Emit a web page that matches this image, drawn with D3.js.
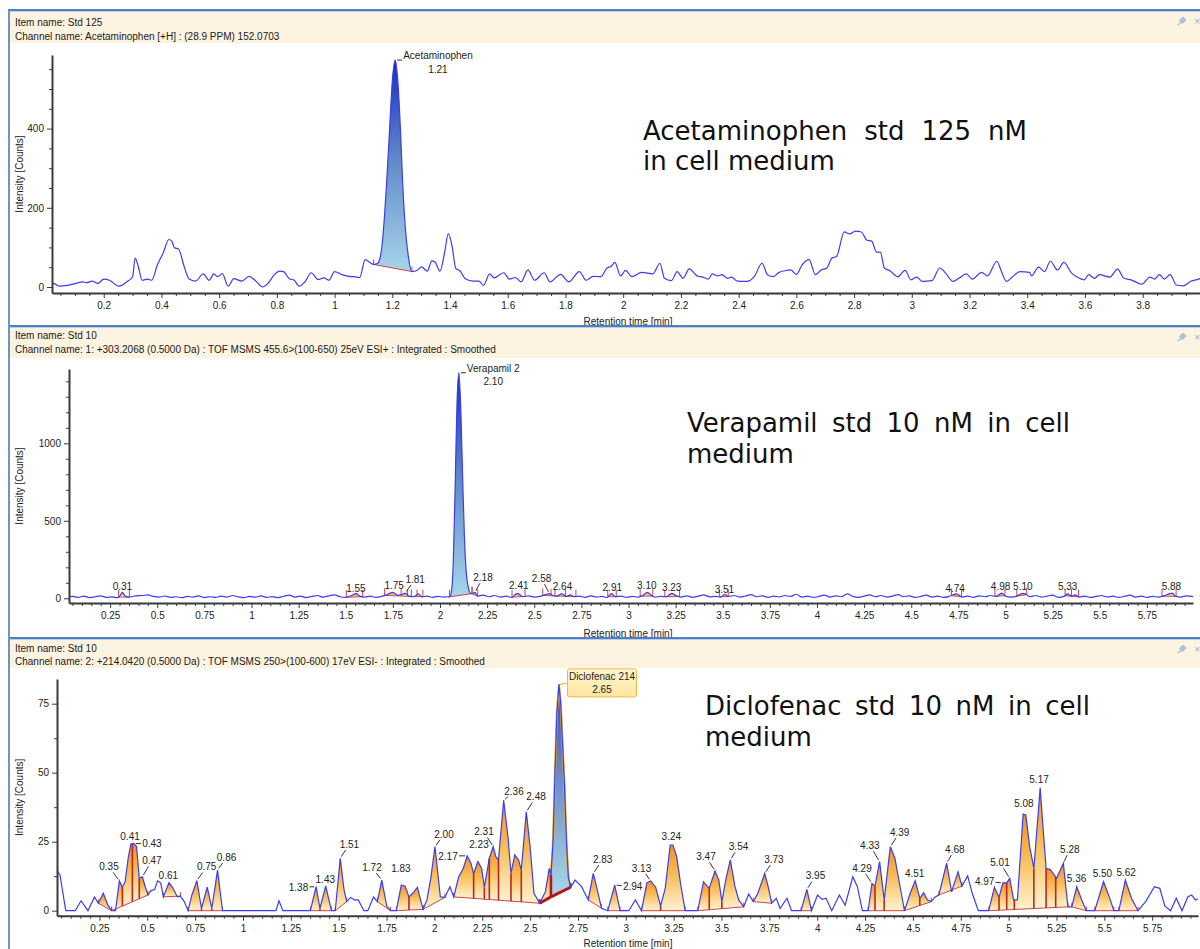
<!DOCTYPE html>
<html><head><meta charset="utf-8">
<script src="https://cdn.jsdelivr.net/npm/d3@7"></script>
<style>body{margin:0;background:#fff;overflow:hidden}svg{display:block}</style>
</head><body>
<svg id="c" width="1200" height="949"></svg>
<script>
// ================= DATA =================
// Panel 1: Acetaminophen chromatogram [time min, intensity counts]
const acetTrace = [[0.021,8],[0.027,8.6],[0.047,2],[0.074,4],[0.107,10],[0.127,13],[0.14,11],[0.16,15],[0.18,9],[0.2,20],[0.22,17],[0.253,2],[0.28,13],[0.3,26],[0.309,73],[0.32,51],[0.333,17],[0.353,20],[0.366,17],[0.386,56],[0.406,86],[0.426,120],[0.436,116],[0.445,99],[0.459,96],[0.479,51],[0.495,21],[0.518,15],[0.545,33],[0.565,17],[0.582,33],[0.595,26],[0.611,34],[0.631,2],[0.651,21],[0.678,15],[0.704,27],[0.724,17],[0.751,0],[0.77,10],[0.79,30],[0.81,40],[0.823,39],[0.843,21],[0.86,17],[0.877,2],[0.897,13],[0.919,36],[0.943,19],[0.963,23],[0.98,17],[1.0,39],[1.023,32],[1.049,27],[1.069,26],[1.087,24],[1.106,69],[1.122,62],[1.135,57],[1.149,60],[1.158,75],[1.165,110],[1.172,170],[1.18,260],[1.19,390],[1.2,520],[1.21,573],[1.22,510],[1.228,400],[1.236,260],[1.245,150],[1.255,80],[1.268,39],[1.288,43],[1.301,51],[1.321,40],[1.337,66],[1.348,63],[1.365,40],[1.381,86],[1.394,135],[1.407,103],[1.42,47],[1.434,41],[1.454,20],[1.48,15],[1.5,15],[1.516,4],[1.537,33],[1.553,23],[1.586,36],[1.606,20],[1.626,24],[1.646,13],[1.67,43],[1.693,17],[1.726,36],[1.746,13],[1.783,32],[1.812,13],[1.848,39],[1.872,17],[1.896,27],[1.922,26],[1.944,48],[1.958,52],[1.971,62],[1.991,28],[2.008,42],[2.03,26],[2.064,37],[2.103,33],[2.127,60],[2.143,22],[2.167,16],[2.187,39],[2.207,22],[2.229,46],[2.256,28],[2.275,25],[2.295,20],[2.309,33],[2.328,28],[2.342,31],[2.362,22],[2.375,25],[2.395,15],[2.428,14],[2.454,26],[2.481,60],[2.5,31],[2.52,26],[2.54,37],[2.56,41],[2.58,43],[2.6,32],[2.62,56],[2.644,69],[2.666,31],[2.686,43],[2.706,48],[2.723,73],[2.739,77],[2.766,139],[2.785,134],[2.805,141],[2.825,139],[2.845,118],[2.861,116],[2.878,88],[2.891,88],[2.905,48],[2.924,41],[2.951,26],[2.977,42],[2.997,18],[3.017,25],[3.037,14],[3.07,16],[3.097,48],[3.117,35],[3.143,14],[3.163,22],[3.189,33],[3.209,20],[3.242,37],[3.262,28],[3.295,65],[3.309,42],[3.328,14],[3.348,25],[3.375,39],[3.408,37],[3.415,28],[3.439,50],[3.46,39],[3.48,65],[3.505,43],[3.527,62],[3.554,35],[3.573,25],[3.597,18],[3.613,31],[3.633,22],[3.65,31],[3.686,25],[3.713,45],[3.735,22],[3.76,18],[3.797,7],[3.825,25],[3.841,20],[3.858,31],[3.875,20],[3.895,31],[3.917,5],[3.941,3],[3.968,15],[3.994,20],[4.0,22]];
const acetGroups = [{s:1.135,e:1.268,v0:57,v1:39,blue:true}];
const acetNamed = {name:'Acetaminophen', rt:'1.21', t:1.21};
const acetXTicks = [0.2,0.4,0.6,0.8,1,1.2,1.4,1.6,1.8,2,2.2,2.4,2.6,2.8,3,3.2,3.4,3.6,3.8];
const acetYTicks = [0,200,400];

// Panel 2: Verapamil chromatogram
const veraTrace = [[0.02,8],[0.05,12],[0.08,6],[0.11,14],[0.14,5],[0.17,10],[0.2,16],[0.23,6],[0.26,9],[0.29,4],[0.3,12],[0.315,38],[0.33,14],[0.35,8],[0.38,15],[0.42,18],[0.45,22],[0.48,12],[0.51,8],[0.54,15],[0.57,6],[0.6,10],[0.63,4],[0.66,12],[0.69,8],[0.72,16],[0.75,5],[0.78,10],[0.81,6],[0.84,14],[0.87,8],[0.9,18],[0.93,9],[0.96,5],[0.99,12],[1.02,7],[1.05,16],[1.08,6],[1.11,11],[1.14,4],[1.17,13],[1.2,20],[1.23,8],[1.26,14],[1.29,5],[1.32,12],[1.35,18],[1.38,7],[1.41,16],[1.44,22],[1.47,10],[1.5,6],[1.53,18],[1.555,30],[1.575,14],[1.6,8],[1.63,14],[1.66,6],[1.69,12],[1.72,24],[1.75,38],[1.775,20],[1.8,26],[1.815,34],[1.835,14],[1.86,10],[1.885,28],[1.905,9],[1.93,14],[1.96,6],[1.99,12],[2.02,8],[2.04,10],[2.05,9],[2.06,40],[2.07,220],[2.08,700],[2.09,1250],[2.1,1455],[2.11,1230],[2.12,780],[2.13,380],[2.14,160],[2.15,70],[2.16,35],[2.17,30],[2.185,38],[2.2,14],[2.23,20],[2.26,10],[2.29,18],[2.32,8],[2.35,14],[2.38,6],[2.41,32],[2.44,10],[2.47,16],[2.5,8],[2.53,12],[2.56,24],[2.58,30],[2.6,18],[2.62,12],[2.645,30],[2.67,12],[2.69,22],[2.71,10],[2.74,14],[2.77,6],[2.8,16],[2.83,8],[2.86,12],[2.885,5],[2.91,30],[2.93,10],[2.96,14],[2.99,6],[3.02,12],[3.05,8],[3.08,22],[3.1,38],[3.12,20],[3.14,8],[3.17,12],[3.2,10],[3.23,32],[3.25,18],[3.28,8],[3.31,16],[3.34,6],[3.37,14],[3.4,22],[3.43,9],[3.46,12],[3.49,8],[3.51,26],[3.53,12],[3.56,18],[3.59,8],[3.62,15],[3.65,24],[3.68,10],[3.71,16],[3.74,6],[3.77,14],[3.8,9],[3.83,18],[3.86,12],[3.89,26],[3.92,8],[3.95,14],[3.98,6],[4.01,12],[4.04,20],[4.07,8],[4.1,16],[4.13,10],[4.16,28],[4.19,12],[4.22,6],[4.25,14],[4.28,22],[4.31,10],[4.34,18],[4.37,8],[4.4,14],[4.43,24],[4.46,10],[4.49,16],[4.52,6],[4.55,12],[4.58,20],[4.61,8],[4.64,14],[4.67,6],[4.7,12],[4.74,28],[4.77,8],[4.8,14],[4.83,6],[4.86,16],[4.89,10],[4.92,18],[4.95,12],[4.98,34],[5.0,14],[5.03,8],[5.06,14],[5.09,32],[5.11,26],[5.13,10],[5.16,18],[5.19,8],[5.22,14],[5.25,20],[5.28,6],[5.31,12],[5.33,28],[5.35,14],[5.37,22],[5.39,8],[5.42,14],[5.45,6],[5.48,12],[5.51,18],[5.54,8],[5.57,14],[5.6,6],[5.63,12],[5.66,20],[5.69,8],[5.72,14],[5.75,6],[5.78,12],[5.81,8],[5.84,16],[5.87,30],[5.885,34],[5.9,14],[5.93,8],[5.96,16],[5.99,12],[6.0,10]];
const veraGroups = [{s:0.295,e:0.352},{s:1.503,e:1.59},{s:1.706,e:1.909,drops:[1.794,1.828,1.848,1.878]},{s:2.05,e:2.17,blue:true},{s:2.17,e:2.2},{s:2.382,e:2.451},{s:2.545,e:2.721,drops:[2.589,2.61,2.666]},{s:2.89,e:2.935},{s:3.062,e:3.129},{s:3.193,e:3.271},{s:3.482,e:3.529},{s:4.713,e:4.767},{s:4.944,e:4.997},{s:5.06,e:5.113},{s:5.316,e:5.387,drops:[5.35]},{s:5.83,e:5.905}];
const veraNamed = {name:'Verapamil 2', rt:'2.10', t:2.10};
const veraLabels = [{text:'0.31',t:0.315,lt:0.315,lv:79},{text:'1.55',t:1.555,lt:1.554,lv:64},{text:'1.75',t:1.75,lt:1.757,lv:85},{text:'1.81',t:1.815,lt:1.868,lv:122},{text:'2.18',t:2.185,lt:2.228,lv:133},{text:'2.41',t:2.41,lt:2.418,lv:85},{text:'2.58',t:2.58,lt:2.539,lv:129},{text:'2.64',t:2.645,lt:2.65,lv:74},{text:'2.91',t:2.91,lt:2.914,lv:71},{text:'3.10',t:3.1,lt:3.097,lv:85},{text:'3.23',t:3.23,lt:3.229,lv:71},{text:'3.51',t:3.51,lt:3.509,lv:58},{text:'4.74',t:4.74,lt:4.733,lv:64},{text:'4.98',t:4.98,lt:4.974,lv:79},{text:'5.10',t:5.09,lt:5.092,lv:75},{text:'5.33',t:5.33,lt:5.33,lv:75},{text:'5.88',t:5.885,lt:5.88,lv:75}];
const veraXTicks = [0.25,0.5,0.75,1,1.25,1.5,1.75,2,2.25,2.5,2.75,3,3.25,3.5,3.75,4,4.25,4.5,4.75,5,5.25,5.5,5.75];
const veraYTicks = [0,500,1000];

// Panel 3: Diclofenac chromatogram
const dicloTrace = [[0.028,14.7],[0.044,12.9],[0.074,0],[0.124,0],[0.154,3.6],[0.19,0],[0.224,5],[0.244,2.7],[0.27,6.3],[0.294,2],[0.314,0],[0.334,0],[0.354,10.8],[0.37,8.5],[0.384,10.5],[0.4,19],[0.414,24.2],[0.43,24.4],[0.444,23.2],[0.458,11.7],[0.474,12.3],[0.49,8.5],[0.504,5.7],[0.518,7.2],[0.538,7.7],[0.554,10.8],[0.57,10.1],[0.584,5],[0.613,10.1],[0.633,8.3],[0.657,5],[0.673,5.3],[0.693,3.3],[0.713,0],[0.733,5.7],[0.759,10.9],[0.783,0.8],[0.813,8.5],[0.837,0.8],[0.867,14.7],[0.893,0],[1.172,0],[1.188,3.6],[1.208,0],[1.352,0],[1.382,8.7],[1.402,0.8],[1.432,9],[1.462,0],[1.482,0],[1.508,19],[1.528,7.5],[1.542,3.3],[1.562,4.8],[1.582,3.9],[1.602,3.9],[1.632,0],[1.652,0],[1.682,5],[1.702,3.3],[1.725,11.1],[1.751,1.7],[1.771,0],[1.801,0],[1.827,9.3],[1.847,8.9],[1.867,5],[1.887,6.3],[1.911,8.5],[1.941,0.5],[1.961,3.9],[1.981,11.7],[2.003,23.2],[2.031,5],[2.055,4.8],[2.081,8.7],[2.101,5],[2.127,12.3],[2.151,15.3],[2.171,19.9],[2.191,17.2],[2.205,13.3],[2.227,17.8],[2.247,15.3],[2.261,8.5],[2.287,19],[2.307,23.2],[2.321,19.6],[2.335,18.4],[2.362,40],[2.386,25.6],[2.4,13.5],[2.42,20.2],[2.44,18.4],[2.454,14.7],[2.48,35.8],[2.5,23.2],[2.52,6.3],[2.55,2.7],[2.58,6.9],[2.6,15.3],[2.609,12.9],[2.62,25],[2.63,50],[2.64,72],[2.651,82],[2.66,75],[2.67,60],[2.68,45],[2.69,25],[2.7,12],[2.712,8.5],[2.735,11.1],[2.752,9.9],[2.769,8.7],[2.786,6.3],[2.804,3.9],[2.83,13.5],[2.847,8.7],[2.873,0.9],[2.906,0],[2.942,9.3],[2.97,0],[3.016,0],[3.05,3.9],[3.082,0],[3.11,10.1],[3.13,10.8],[3.156,8.5],[3.182,1.7],[3.206,8.1],[3.232,23.8],[3.246,23.8],[3.266,19.6],[3.286,9.9],[3.31,0],[3.376,0],[3.406,10.5],[3.436,8.1],[3.466,14.4],[3.486,11.1],[3.502,3.3],[3.522,11.1],[3.546,18.4],[3.57,8.9],[3.59,3.9],[3.616,1.4],[3.642,6],[3.666,3.3],[3.69,6.3],[3.726,13.5],[3.746,8.1],[3.762,2.7],[3.786,4.5],[3.806,0.8],[3.842,4.5],[3.866,0],[3.916,0],[3.946,7.7],[3.97,0],[4.002,5.7],[4.026,4.1],[4.046,4.5],[4.076,0],[4.116,5.7],[4.146,2],[4.186,12.3],[4.21,8.7],[4.236,0],[4.266,0],[4.286,9.9],[4.302,8.9],[4.326,17.8],[4.35,3.9],[4.382,23.2],[4.406,19],[4.436,7.5],[4.456,0],[4.486,6.3],[4.512,10.9],[4.536,4.5],[4.556,6.5],[4.576,3.9],[4.596,3.3],[4.616,5],[4.636,5.7],[4.676,17.2],[4.702,6.9],[4.736,14.1],[4.756,8.9],[4.786,12.6],[4.81,6.3],[4.842,0],[4.896,0],[4.926,8.5],[4.95,4.8],[4.97,10.1],[4.99,10.1],[5.006,11.7],[5.026,3.9],[5.046,3.9],[5.076,35],[5.09,34.7],[5.11,23.2],[5.132,15.3],[5.165,44.5],[5.18,30],[5.196,15.3],[5.216,15],[5.236,13.3],[5.25,11.7],[5.266,14.1],[5.286,17.2],[5.31,1.4],[5.33,1.4],[5.356,8.7],[5.382,3.9],[5.406,0],[5.45,0],[5.496,10.5],[5.526,5],[5.55,0],[5.576,0],[5.61,11.1],[5.642,4.5],[5.676,0],[5.716,3.3],[5.762,8.7],[5.79,8.1],[5.816,1.7],[5.846,0],[5.876,4.5],[5.906,0],[5.936,5],[5.956,5.7],[5.976,3.9],[5.996,4.5]];
const dicloGroups = [{s:0.244,e:0.314,v0:2.7,v1:0},{s:0.314,e:0.504,v0:0,v1:5.7,drops:[0.37,0.422,0.458]},{s:0.584,e:0.673,v0:5,v1:5.3},{s:0.713,e:0.893,v0:0,v1:0,drops:[0.783,0.837]},{s:1.352,e:1.462,v0:0,v1:0,drops:[1.402]},{s:1.482,e:1.542,v0:0,v1:3.3},{s:1.702,e:1.771,v0:3.3,v1:0},{s:1.801,e:1.941,v0:0,v1:0.5,drops:[1.867]},{s:1.941,e:2.055,v0:0.5,v1:4.8},{s:2.101,e:2.55,v0:5,v1:2.7,drops:[2.205,2.261,2.287,2.335,2.4,2.454]},{s:2.55,e:2.609,v0:2.7,v1:5,thick:true},{s:2.609,e:2.712,v0:5,v1:8.5,blue:true,thick:true},{s:2.804,e:2.873,v0:3.9,v1:0.9},{s:2.906,e:2.97,v0:0,v1:0},{s:3.082,e:3.31,v0:0,v1:0,drops:[3.182]},{s:3.376,e:3.616,v0:0,v1:1.4,drops:[3.436,3.502]},{s:3.666,e:3.762,v0:3.3,v1:2.7},{s:3.916,e:3.97,v0:0,v1:0},{s:4.266,e:4.456,v0:0,v1:0,drops:[4.302,4.35]},{s:4.456,e:4.596,v0:0,v1:3.3,drops:[4.536]},{s:4.636,e:4.756,v0:5.7,v1:8.9,drops:[4.702]},{s:4.896,e:5.31,v0:0,v1:1.4,drops:[4.95,4.99,5.03,5.132,5.196,5.246]},{s:5.33,e:5.406,v0:1.4,v1:0},{s:5.45,e:5.55,v0:0,v1:0},{s:5.576,e:5.676,v0:0,v1:0}];
const dicloNamed = {name:'Diclofenac 214', rt:'2.65', t:2.651};
const dicloLabels = [{text:'0.35',t:0.354,lt:0.3,lv:15.9},{text:'0.41',t:0.414,lt:0.41,lv:26.8},{text:'0.43',t:0.43,lt:0.524,lv:24.2},{text:'0.47',t:0.474,lt:0.524,lv:18.1},{text:'0.61',t:0.613,lt:0.61,lv:12.6},{text:'0.75',t:0.759,lt:0.81,lv:15.9},{text:'0.86',t:0.867,lt:0.914,lv:19.3},{text:'1.38',t:1.382,lt:1.29,lv:8.5},{text:'1.43',t:1.432,lt:1.43,lv:11.4},{text:'1.51',t:1.508,lt:1.556,lv:24.1},{text:'1.72',t:1.725,lt:1.674,lv:15.7},{text:'1.83',t:1.827,lt:1.825,lv:15.4},{text:'2.00',t:2.003,lt:2.05,lv:27.7},{text:'2.17',t:2.171,lt:2.071,lv:19.8},{text:'2.23',t:2.227,lt:2.233,lv:24.1},{text:'2.31',t:2.307,lt:2.259,lv:28.6},{text:'2.36',t:2.362,lt:2.416,lv:43.1},{text:'2.48',t:2.48,lt:2.531,lv:41.3},{text:'2.83',t:2.83,lt:2.879,lv:18.6},{text:'2.94',t:2.942,lt:3.036,lv:8.7},{text:'3.13',t:3.13,lt:3.082,lv:15.4},{text:'3.24',t:3.239,lt:3.238,lv:26.9},{text:'3.47',t:3.466,lt:3.419,lv:19.6},{text:'3.54',t:3.546,lt:3.589,lv:23.2},{text:'3.73',t:3.726,lt:3.774,lv:18.6},{text:'3.95',t:3.946,lt:3.991,lv:12.6},{text:'4.29',t:4.286,lt:4.234,lv:15.4},{text:'4.33',t:4.326,lt:4.275,lv:23.6},{text:'4.39',t:4.382,lt:4.431,lv:28.4},{text:'4.51',t:4.512,lt:4.509,lv:13.6},{text:'4.68',t:4.676,lt:4.719,lv:22.2},{text:'4.97',t:4.97,lt:4.875,lv:10.5},{text:'5.01',t:5.006,lt:4.955,lv:17.4},{text:'5.08',t:5.083,lt:5.08,lv:38.9},{text:'5.17',t:5.165,lt:5.159,lv:47.7},{text:'5.28',t:5.286,lt:5.32,lv:22.2},{text:'5.36',t:5.356,lt:5.355,lv:11.5},{text:'5.50',t:5.496,lt:5.49,lv:13.3},{text:'5.62',t:5.61,lt:5.614,lv:13.8}];
const dicloXTicks = [0.25,0.5,0.75,1,1.25,1.5,1.75,2,2.25,2.5,2.75,3,3.25,3.5,3.75,4,4.25,4.5,4.75,5,5.25,5.5,5.75];
const dicloYTicks = [0,25,50,75];

const headers = [
  ['Item name: Std 125','Channel name: Acetaminophen [+H] : (28.9 PPM) 152.0703'],
  ['Item name: Std 10','Channel name: 1: +303.2068 (0.5000 Da) : TOF MSMS 455.6>(100-650) 25eV ESI+ : Integrated : Smoothed'],
  ['Item name: Std 10','Channel name: 2: +214.0420 (0.5000 Da) : TOF MSMS 250>(100-600) 17eV ESI- : Integrated : Smoothed']
];
const notes = [
  ['Acetaminophen std 125 nM','in cell medium'],
  ['Verapamil std 10 nM in cell','medium'],
  ['Diclofenac std 10 nM in cell','medium']
];
const xTitle = 'Retention time [min]';
const yTitle = 'Intensity [Counts]';

// ================= LAYOUT =================
const UI = "'Liberation Sans', Arial, sans-serif";
const layouts = [
  {border:10, headTop:12, headH:31, item:25.5, chan:40, x0:46, kx:288.6, axisX:52, rightX:1200, zeroY:287, ky:0.396, topY:55, bottomY:293,
   xMinor:0.05, yMinor:50, yMinorMax:550, xTitleY:325, curve:d3.curveMonotoneX, tickLen:5, groupStyle:'p1',
   note:{x:643, y1:140, y2:170, w:384}},
  {border:326, headTop:328, headH:30, item:338.5, chan:353, x0:63, kx:188.5, axisX:69, rightX:1193, zeroY:598.3, ky:0.155, topY:369, bottomY:603,
   xMinor:0.05, yMinor:100, yMinorMax:1400, xTitleY:636.5, curve:d3.curveMonotoneX, tickLen:7, groupStyle:'p2',
   note:{x:687, y1:431.5, y2:462.5, w:383}},
  {border:638, headTop:640, headH:28, item:651.5, chan:664.5, x0:51.6, kx:191.4, axisX:57, rightX:1198, zeroY:910.7, ky:2.76, topY:679, bottomY:915.7,
   xMinor:0.05, yMinor:12.5, yMinorMax:75, xTitleY:946.5, curve:d3.curveLinear, tickLen:4, groupStyle:'p3',
   note:{x:705, y1:714.5, y2:746, w:385}}
];

const svg = d3.select('#c');
const defs = svg.append('defs');
function grad(id, stops){
  const g = defs.append('linearGradient').attr('id',id).attr('x1',0).attr('y1',0).attr('x2',0).attr('y2',1);
  stops.forEach(([o,c])=>g.append('stop').attr('offset',o).attr('stop-color',c));
}
grad('gOrange',[[0,'#f39019'],[0.45,'#f8bd55'],[1,'#fff3d0']]);
grad('gBlue1',[[0,'#1a2cc0'],[0.45,'#5f86c6'],[1,'#a6d6ea']]);
grad('gBlue3',[[0,'#3a4aa8'],[0.5,'#7696c8'],[1,'#a9d8e8']]);
grad('gBox',[[0,'#fff6d2'],[1,'#fde59e']]);

function interp(trace, t){
  for(let i=1;i<trace.length;i++){
    if(trace[i][0]>=t){const [a,va]=trace[i-1],[b,vb]=trace[i];return b===a?vb:va+(vb-va)*(t-a)/(b-a);}
  }
  return trace[trace.length-1][1];
}
function peakAt(trace,t){
  let best=interp(trace,t);
  trace.forEach(([tt,v])=>{if(Math.abs(tt-t)<=0.012&&v>best)best=v;});
  return best;
}

const datasets = [
  {trace:acetTrace, groups:acetGroups, named:acetNamed, labels:[], xt:acetXTicks, yt:acetYTicks},
  {trace:veraTrace, groups:veraGroups, named:veraNamed, labels:veraLabels, xt:veraXTicks, yt:veraYTicks},
  {trace:dicloTrace, groups:dicloGroups, named:dicloNamed, labels:dicloLabels, xt:dicloXTicks, yt:dicloYTicks}
];

datasets.forEach((D,pi)=>{
  const L = layouts[pi];
  const g = svg.append('g');
  // header band + borders
  g.append('rect').attr('x',9).attr('y',L.headTop).attr('width',1191).attr('height',L.headH).attr('fill','#fdf3e1');
  g.append('line').attr('x1',8).attr('x2',1200).attr('y1',L.border).attr('y2',L.border).attr('stroke','#4f7fc2').attr('stroke-width',2);
  g.append('line').attr('x1',8).attr('x2',1200).attr('y1',L.border+1.5).attr('y2',L.border+1.5).attr('stroke','#b9cfe9').attr('stroke-width',1);
  g.append('text').attr('x',15).attr('y',L.item).text(headers[pi][0]).attr('font-family',UI).attr('font-size',10).attr('fill','#1a1a1a');
  g.append('text').attr('x',15).attr('y',L.chan).text(headers[pi][1]).attr('font-family',UI).attr('font-size',10).attr('fill','#1a1a1a');
  // pin icon
  const pin = g.append('g').attr('transform',`translate(1182,${L.headTop+9}) rotate(45)`);
  pin.append('rect').attr('x',-2.5).attr('y',-4).attr('width',5).attr('height',6).attr('rx',1).attr('fill','#a9bfdc');
  pin.append('line').attr('x1',0).attr('x2',0).attr('y1',2).attr('y2',6).attr('stroke','#8aa3c8');
  g.append('text').attr('x',1194).attr('y',L.headTop+13).text('×').attr('font-family',UI).attr('font-size',11).attr('fill','#9db2d2');

  const xs = d3.scaleLinear().domain([(L.axisX-L.x0)/L.kx,(L.rightX-L.x0)/L.kx]).range([L.axisX,L.rightX]);
  const ys = d3.scaleLinear().domain([(L.zeroY-L.bottomY)/L.ky,(L.zeroY-L.topY)/L.ky]).range([L.bottomY,L.topY]);

  const clipId = 'clip'+pi;
  defs.append('clipPath').attr('id',clipId).append('rect').attr('x',L.axisX).attr('y',L.topY-30).attr('width',L.rightX-L.axisX).attr('height',L.bottomY-L.topY+30);
  const plot = g.append('g').attr('clip-path',`url(#${clipId})`);

  // integration groups
  const fillG = plot.append('g'), lineG = plot.append('g');
  D.groups.forEach(G=>{
    const v0 = G.v0!==undefined?G.v0:interp(D.trace,G.s);
    const v1 = G.v1!==undefined?G.v1:interp(D.trace,G.e);
    const base = t=>v0+(v1-v0)*(t-G.s)/(G.e-G.s);
    const bounds = [G.s,...(G.drops||[]),G.e];
    for(let k=0;k<bounds.length-1;k++){
      const a=bounds[k], b=bounds[k+1];
      const pts = [[a,interp(D.trace,a)],...D.trace.filter(p=>p[0]>a&&p[0]<b),[b,interp(D.trace,b)]];
      const area = d3.area().x(p=>xs(p[0])).y0(p=>ys(base(p[0]))).y1(p=>ys(p[1])).curve(L.curve);
      const fillId = G.blue ? (pi===0||pi===1?'gBlue1':'gBlue3') : 'gOrange';
      const path = fillG.append('path').attr('d',area(pts)).attr('fill',`url(#${fillId})`);
      if(G.blue && pi===2) path.attr('stroke','#f2b035').attr('stroke-width',2.2);
    }
    // baseline
    const red = G.thick ? '#b3161b' : '#cc4444';
    lineG.append('line').attr('x1',xs(G.s)).attr('x2',xs(G.e)).attr('y1',ys(v0)).attr('y2',ys(v1))
      .attr('stroke',red).attr('stroke-width',G.thick?3:1);
    // end ticks
    [G.s,G.e].forEach(t=>{
      lineG.append('line').attr('x1',xs(t)).attr('x2',xs(t)).attr('y1',ys(base(t))).attr('y2',ys(base(t))-L.tickLen)
        .attr('stroke',red).attr('stroke-width',G.thick?2:1);
    });
    (G.drops||[]).forEach(t=>{
      if(L.groupStyle==='p2'){
        lineG.append('line').attr('x1',xs(t)).attr('x2',xs(t)).attr('y1',ys(base(t))).attr('y2',ys(base(t))-L.tickLen).attr('stroke',red).attr('stroke-width',1);
      } else {
        lineG.append('line').attr('x1',xs(t)).attr('x2',xs(t)).attr('y1',ys(base(t))).attr('y2',ys(interp(D.trace,t)))
          .attr('stroke','#b8262b').attr('stroke-width',1.6);
      }
    });
  });
  if(pi===2){ // thick separator at start of blue peak
    const G = D.groups.find(q=>q.blue);
    lineG.append('line').attr('x1',xs(G.s)).attr('x2',xs(G.s)).attr('y1',ys(G.v0)).attr('y2',ys(interp(D.trace,G.s)))
      .attr('stroke','#b3161b').attr('stroke-width',2.5);
  }
  // trace
  const line = d3.line().x(p=>xs(p[0])).y(p=>ys(p[1])).curve(L.curve);
  plot.append('path').attr('d',line(D.trace)).attr('fill','none').attr('stroke','#3b3cf2').attr('stroke-width',1.2);

  // axes
  const fmt = d=>String(+d.toFixed(2));
  g.append('g').attr('transform',`translate(0,${L.bottomY})`)
    .call(d3.axisBottom(xs).tickValues(D.xt).tickSize(5).tickPadding(4).tickSizeOuter(0).tickFormat(fmt));
  const xmin = [];
  for(let t=Math.ceil(xs.domain()[0]/L.xMinor)*L.xMinor;t<xs.domain()[1];t+=L.xMinor){ if(!D.xt.some(m=>Math.abs(m-t)<1e-6)) xmin.push(+t.toFixed(3)); }
  g.append('g').attr('transform',`translate(0,${L.bottomY})`)
    .call(d3.axisBottom(xs).tickValues(xmin).tickSize(3).tickSizeOuter(0).tickFormat(''))
    .call(s=>s.select('.domain').remove());
  g.append('g').attr('transform',`translate(${L.axisX},0)`)
    .call(d3.axisLeft(ys).tickValues(D.yt).tickSize(5).tickPadding(3).tickSizeOuter(0).tickFormat(d3.format('d')));
  const ymin = [];
  for(let v=L.yMinor; v<=L.yMinorMax+1e-6; v+=L.yMinor){ if(!D.yt.some(m=>Math.abs(m-v)<1e-6)) ymin.push(v); }
  g.append('g').attr('transform',`translate(${L.axisX},0)`)
    .call(d3.axisLeft(ys).tickValues(ymin).tickSize(3).tickSizeOuter(0).tickFormat(''))
    .call(s=>s.select('.domain').remove());
  g.selectAll('.domain').attr('stroke','#3a3a3a').attr('stroke-width',2);
  g.selectAll('.tick line').attr('stroke','#3a3a3a');
  g.selectAll('.tick text').attr('font-family',UI).attr('font-size',10).attr('fill','#222');

  g.append('text').attr('x',628).attr('y',L.xTitleY).attr('text-anchor','middle').text(xTitle)
    .attr('font-family',UI).attr('font-size',10).attr('fill','#222');
  g.append('text').attr('transform',`translate(23,${(L.topY+L.bottomY)/2}) rotate(-90)`).attr('text-anchor','middle').text(yTitle)
    .attr('font-family',UI).attr('font-size',10).attr('fill','#222');

  // small peak labels
  const lab = g.append('g').attr('font-family',UI).attr('font-size',10).attr('fill','#222');
  D.labels.forEach(l=>{
    const px = xs(l.t), py = ys(peakAt(D.trace,l.t));
    const lx = xs(l.lt), ly = ys(l.lv);
    lab.append('text').attr('x',lx).attr('y',ly).attr('dy','0.35em').attr('text-anchor','middle').text(l.text);
    const dx = lx-px, dy = ly-py, d = Math.hypot(dx,dy);
    if(Math.abs(dx)>6 && d>12){
      const ux=dx/d, uy=dy/d;
      const ext = 1/Math.sqrt((ux/11)**2+(uy/6)**2);
      lab.append('line').attr('x1',px+ux*2).attr('y1',py+uy*2).attr('x2',lx-ux*ext).attr('y2',ly-uy*ext)
        .attr('stroke','#333').attr('stroke-width',1);
    }
  });

  // named peak label
  const N = D.named;
  const nx = xs(N.t), ny = ys(peakAt(D.trace,N.t));
  if(pi===2){
    const bx = nx+8.5, by = ny-15.5;
    lab.append('line').attr('x1',nx+1).attr('y1',ny).attr('x2',bx).attr('y2',ny-1).attr('stroke','#e0a830').attr('stroke-width',1);
    lab.append('rect').attr('x',bx).attr('y',by).attr('width',69).attr('height',28).attr('rx',2)
      .attr('fill','url(#gBox)').attr('stroke','#f0b849').attr('stroke-width',1);
    lab.append('text').attr('x',bx+34.5).attr('y',by+8).attr('dy','0.35em').attr('text-anchor','middle').text(N.name);
    lab.append('text').attr('x',bx+34.5).attr('y',by+21).attr('dy','0.35em').attr('text-anchor','middle').text(N.rt);
  } else {
    lab.append('line').attr('x1',nx+2).attr('x2',nx+7).attr('y1',ny).attr('y2',ny).attr('stroke','#333').attr('stroke-width',1);
    const tn = lab.append('text').attr('x',nx+8).attr('y',ny-4.5).attr('dy','0.35em').text(N.name);
    const w = tn.node().getComputedTextLength();
    lab.append('text').attr('x',nx+8+w/2).attr('y',ny+9).attr('dy','0.35em').attr('text-anchor','middle').text(N.rt);
  }

  // annotation note (justified first line)
  const nt = g.append('g').attr('font-family',"'DejaVu Sans', Verdana, sans-serif").attr('font-size',26).attr('fill','#111');
  const words = notes[pi][0].split(' ');
  const els = words.map(wd=>nt.append('text').attr('y',L.note.y1).text(wd));
  const widths = els.map(e=>e.node().getComputedTextLength());
  const gap = (L.note.w - d3.sum(widths))/(words.length-1);
  let cx = L.note.x;
  els.forEach((e,i)=>{e.attr('x',cx); cx += widths[i]+gap;});
  nt.append('text').attr('x',L.note.x).attr('y',L.note.y2).text(notes[pi][1]);
});

// left frame border
svg.append('line').attr('x1',9).attr('x2',9).attr('y1',10).attr('y2',949).attr('stroke','#6d93cc').attr('stroke-width',2);
</script>
</body></html>
